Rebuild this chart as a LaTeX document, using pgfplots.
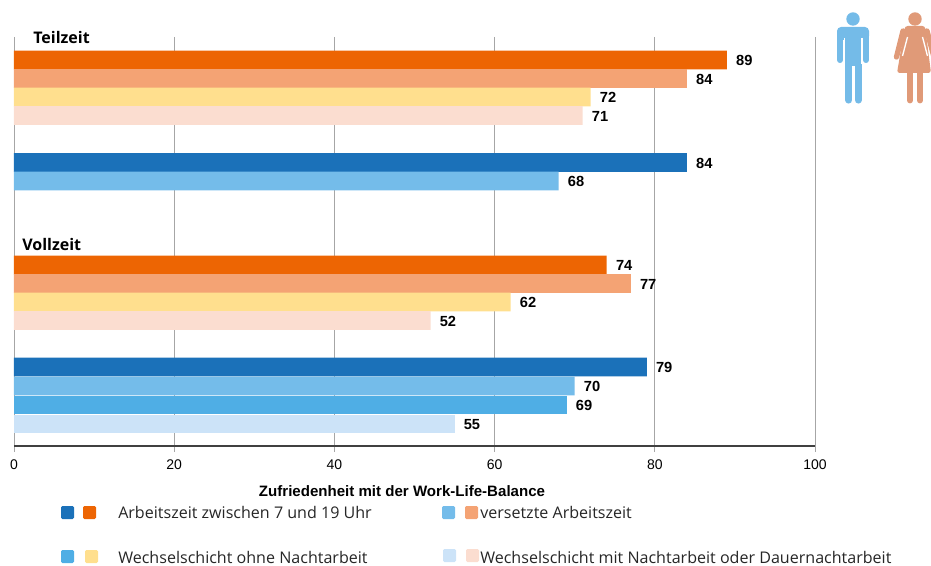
\documentclass[border=0pt]{standalone}
\usepackage{fontspec}
\setmainfont{Liberation Sans}
\newfontfamily\legendfont{Open Sans}
\usepackage{pgfplots}
\pgfplotsset{compat=1.18}
\definecolor{orA}{HTML}{ED6503}
\definecolor{orB}{HTML}{F4A374}
\definecolor{orC}{HTML}{FFDF8E}
\definecolor{orD}{HTML}{FBDDD0}
\definecolor{blA}{HTML}{1B71B9}
\definecolor{blB}{HTML}{74BCEA}
\definecolor{blC}{HTML}{4FAEE5}
\definecolor{blD}{HTML}{CCE3F8}
\definecolor{manC}{HTML}{74BBE8}
\definecolor{womanC}{HTML}{E09A78}
\begin{document}
\begin{tikzpicture}[x=0.75pt,y=-0.75pt]
\path[use as bounding box] (0,0) rectangle (931,566);
\begin{axis}[
  at={(10.5pt,-334.5pt)}, anchor=south west,
  scale only axis, width=600.75pt, height=306.75pt,
  xmin=0, xmax=100, ymin=37, ymax=446, y dir=reverse,
  xbar, bar width=13.9pt, /pgf/bar shift=0pt,
  axis y line=none, axis x line*=bottom,
  x axis line style={draw=black!75, line width=0.8pt, -},
  xtick={0,20,...,100}, xmajorgrids,
  grid style={draw=black!35, line width=0.7pt},
  tick align=outside, major tick length=4.5pt,
  tick style={draw=black!35, line width=0.7pt},
  xticklabel style={font=\fontsize{10.5}{12}\selectfont, yshift=-2.5pt},
  /pgf/number format/assume math mode=true,
  nodes near coords,
  nodes near coords style={font=\bfseries\fontsize{11}{12}\selectfont, anchor=west, inner sep=0pt, xshift=6.75pt, yshift=-0.6pt, text=black},
  every axis plot/.append style={draw=none},
]
\addplot[fill=orA] coordinates {(89,60) (74,265)};
\addplot[fill=orB] coordinates {(84,78.5) (77,283.5)};
\addplot[fill=orC] coordinates {(72,97) (62,302)};
\addplot[fill=orD] coordinates {(71,115.5) (52,320.5)};
\addplot[fill=blA] coordinates {(84,162.5) (79,367)};
\addplot[fill=blB] coordinates {(68,181) (70,386)};
\addplot[fill=blC] coordinates {(69,405)};
\addplot[fill=blD] coordinates {(55,424)};
\end{axis}

% group headings
\node[anchor=west, inner sep=0pt, font=\legendfont\bfseries\fontsize{12}{12}\selectfont] at (33,38) {Teilzeit};
\node[anchor=west, inner sep=0pt, font=\legendfont\bfseries\fontsize{12}{12}\selectfont] at (22,245) {Vollzeit};

% value axis title
\node[inner sep=0pt, font=\bfseries\fontsize{11.3}{12}\selectfont] at (402,491) {Zufriedenheit mit der Work-Life-Balance};

% legend: one swatch pair per working-time pattern
\foreach \xa/\xb/\ya/\ca/\cb in {
  61/83/512.5/blA/orA, 442/465/512.5/blB/orB,
  61/85/556.5/blC/orC, 443/466/555.5/blD/orD}{
  \fill[\ca, rounded corners=1pt] (\xa,\ya-6.5) rectangle ++(13,13);
  \fill[\cb, rounded corners=1pt] (\xb,\ya-6.5) rectangle ++(13,13);
}
\begin{scope}[every node/.style={anchor=west, inner sep=0pt, font=\legendfont\fontsize{12.05}{12}\selectfont, text=black!85}]
\node at (118,512) {Arbeitszeit zwischen 7 und 19 Uhr};
\node at (480,512) {versetzte Arbeitszeit};
\node at (118,557) {Wechselschicht ohne Nachtarbeit};
\node at (480,557) {Wechselschicht mit Nachtarbeit oder Dauernachtarbeit};
\end{scope}

% man pictogram
\begin{scope}[manC]
\fill (853,19) circle (6.7);
\fill[rounded corners=3pt] (837,40) -- (837,27) -- (869,27) -- (869,40) -- cycle;
\fill (845,32) rectangle (862,66);
\draw[line width=4.6pt, line cap=round] (840,36) -- (840,60);
\draw[line width=4.6pt, line cap=round] (866,36) -- (866,60);
\draw[line width=5.4pt, line cap=round] (848.7,60) -- (848.7,100);
\draw[line width=5.4pt, line cap=round] (858.3,60) -- (858.3,100);
\draw[white, line width=1pt] (844.5,38) -- (844.5,64);
\draw[white, line width=1pt] (862,38) -- (862,64);
\end{scope}

% woman pictogram
\begin{scope}[womanC]
\fill (915,19) circle (6.7);
\fill[rounded corners=2pt] (905,26) -- (925,26) -- (931,73) -- (897,73) -- cycle;
\draw[line width=4pt, line cap=round] (903,31) -- (896.5,57);
\draw[line width=4pt, line cap=round] (927,31) -- (934,57);
\draw[line width=4.4pt, line cap=round] (910,70) -- (910,100.5);
\draw[line width=4.4pt, line cap=round] (920,70) -- (920,100.5);
\draw[white, line width=1pt] (907.5,37) -- (902.5,56);
\draw[white, line width=1pt] (922.5,37) -- (927.5,56);
\end{scope}
\end{tikzpicture}
\end{document}
